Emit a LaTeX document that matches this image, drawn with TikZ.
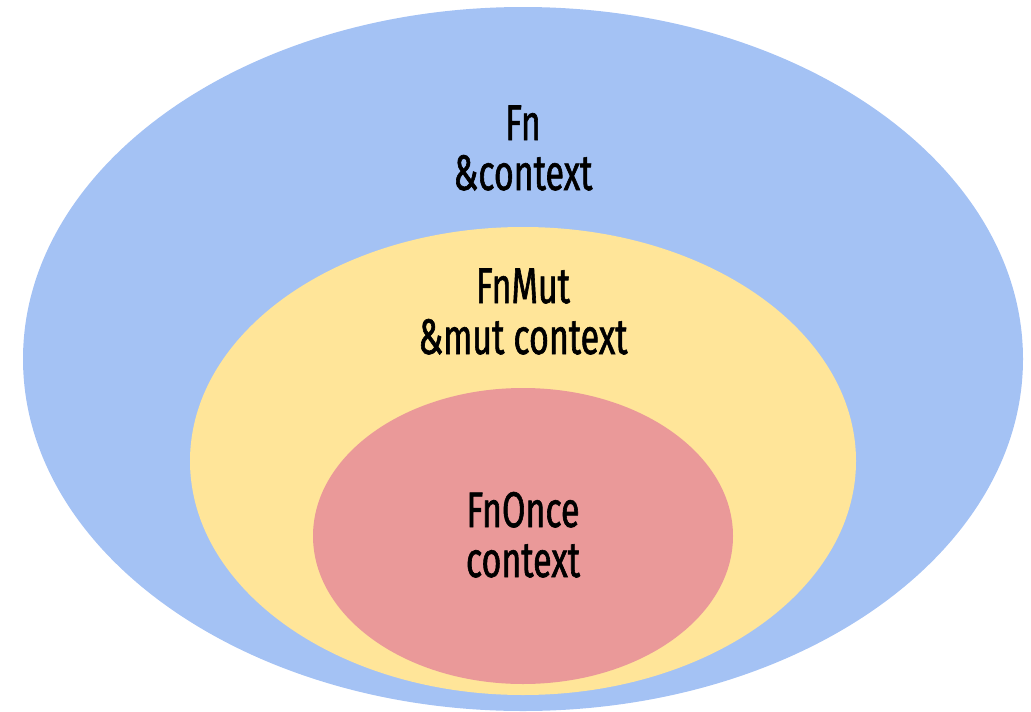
\documentclass[tikz,border=0pt]{standalone}
\usepackage{fontspec}
\setmainfont[FakeStretch=0.68,FakeBold=1.2]{Fira Sans}
\usetikzlibrary{shapes.geometric}
\definecolor{outerblue}{HTML}{A4C2F4}
\definecolor{midyellow}{HTML}{FFE599}
\definecolor{innerred}{HTML}{EA9999}
\tikzset{
  blob/.style={ellipse, draw=none, inner sep=0pt},
  lbl/.style={anchor=base, inner sep=0pt, font=\fontsize{50}{50}\selectfont, text=black}
}
\begin{document}
\begin{tikzpicture}[x=1pt,y=-1pt]
\useasboundingbox (0,0) rectangle (1031,712);
\node[blob, fill=outerblue, minimum width=1000pt, minimum height=704pt] (fn) at (523,359) {};
\node[blob, fill=midyellow, minimum width=666pt, minimum height=468pt] (fnmut) at (523,461) {};
\node[blob, fill=innerred, minimum width=420pt, minimum height=296pt] (fnonce) at (523,536) {};
\node[lbl] (t1) at (523,140) {Fn};
\node[lbl] (t2) at (523,190) {\&context};
\node[lbl] (t3) at (523,303) {FnMut};
\node[lbl] (t4) at (523,354) {\&mut context};
\node[lbl] (t5) at (523,527) {FnOnce};
\node[lbl] (t6) at (523,577) {context};
\end{tikzpicture}
\end{document}
